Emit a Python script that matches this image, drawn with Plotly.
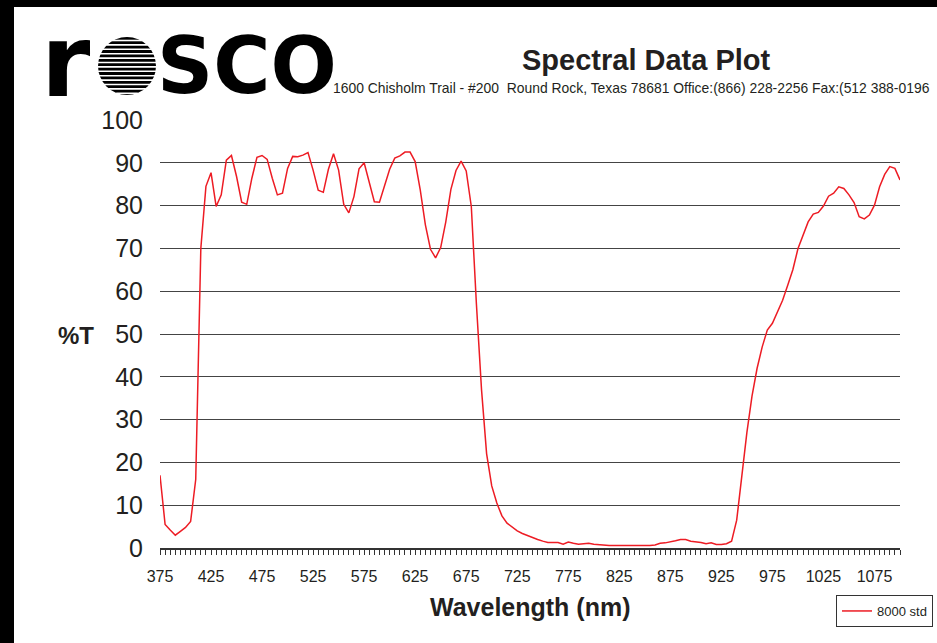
import math
import plotly.graph_objects as go

# ---------------- data ----------------
wavelength_nm = [
    375, 380, 385, 390, 395, 400, 405, 410, 415, 420, 425, 430, 435, 440, 445, 450,
    455, 460, 465, 470, 475, 480, 485, 490, 495, 500, 505, 510, 515, 520, 525, 530,
    535, 540, 545, 550, 555, 560, 565, 570, 575, 580, 585, 590, 595, 600, 605, 610,
    615, 620, 625, 630, 635, 640, 645, 650, 655, 660, 665, 670, 675, 680, 685, 690,
    695, 700, 705, 710, 715, 720, 725, 730, 735, 740, 745, 750, 755, 760, 765, 770,
    775, 780, 785, 790, 795, 800, 805, 810, 815, 820, 825, 830, 835, 840, 845, 850,
    855, 860, 865, 870, 875, 880, 885, 890, 895, 900, 905, 910, 915, 920, 925, 930,
    935, 940, 945, 950, 955, 960, 965, 970, 975, 980, 985, 990, 995, 1000, 1005, 1010,
    1015, 1020, 1025, 1030, 1035, 1040, 1045, 1050, 1055, 1060, 1065, 1070, 1075, 1080,
    1085, 1090, 1095, 1100,
]

transmission_8000 = [
    17.0, 5.5, 4.2, 3.0, 3.9, 4.8, 6.2, 16.0, 70.0, 84.5, 87.7, 79.8, 82.5, 90.6, 91.7, 86.8,
    80.8, 80.3, 86.4, 91.3, 91.7, 90.8, 86.4, 82.5, 82.9, 88.7, 91.5, 91.4, 91.8, 92.4, 88.3, 83.6,
    83.1, 88.5, 92.1, 88.3, 80.3, 78.3, 82.1, 88.6, 90.0, 85.4, 80.9, 80.8, 84.6, 88.5, 91.1, 91.6,
    92.5, 92.5, 90.3, 83.6, 75.5, 69.8, 67.8, 70.2, 76.2, 83.8, 88.2, 90.4, 88.1, 79.8, 57.0, 37.0,
    22.0, 14.5, 10.5, 7.5, 5.8, 4.8, 4.0, 3.4, 2.9, 2.4, 2.0, 1.6, 1.3, 1.3, 1.3, 0.9,
    1.4, 1.1, 0.9, 1.0, 1.1, 0.9, 0.8, 0.6, 0.6, 0.6, 0.6, 0.6, 0.5, 0.5, 0.5, 0.5,
    0.6, 0.7, 1.1, 1.2, 1.4, 1.7, 2.0, 2.0, 1.6, 1.5, 1.3, 1.0, 1.2, 0.8, 0.8, 1.0,
    1.6, 6.5, 16.5, 27.0, 35.5, 42.0, 47.0, 50.9, 52.5, 55.2, 57.9, 61.4, 65.0, 69.9, 73.0, 76.2,
    78.0, 78.4, 79.9, 82.2, 82.9, 84.4, 84.0, 82.5, 80.7, 77.4, 76.9, 77.8, 80.1, 84.4,
    87.3, 89.1, 88.7, 86.0,
]

x_tick_values = [375, 425, 475, 525, 575, 625, 675, 725, 775, 825, 875, 925, 975, 1025, 1075]
y_tick_values = [0, 10, 20, 30, 40, 50, 60, 70, 80, 90, 100]
series_name = "8000 std"

# ---------------- layout helpers ----------------
W, H = 937, 643          # visible page size
W_LAYOUT = W + 8         # the page renders the figure 8px narrower than asked
L, R, T, B = 160, 37, 120, 95
PW, PH = W - L - R, H - T - B


def px(x):
    return (x - L) / PW


def py(y):
    return (H - B - y) / PH


FONT = "Liberation Sans, Arial, Helvetica, sans-serif"
RED = "#ed1c24"
TXT = "#231f20"

fig = go.Figure()
fig.add_trace(go.Scatter(
    x=wavelength_nm, y=transmission_8000, mode="lines", name=series_name,
    line=dict(color=RED, width=1.5), showlegend=True,
))

shapes = []
# black frame bands (top and left)
shapes.append(dict(type="rect", xref="paper", yref="paper", x0=px(-5), x1=px(W + 10),
                   y0=py(7), y1=py(-5), fillcolor="black", line=dict(width=0), layer="above"))
shapes.append(dict(type="rect", xref="paper", yref="paper", x0=px(-5), x1=px(14),
                   y0=py(H + 5), y1=py(-5), fillcolor="black", line=dict(width=0), layer="above"))

# logo striped circle
cx, cy, rr = 127, 66, 29
shapes.append(dict(type="circle", xref="paper", yref="paper", x0=px(cx - rr), x1=px(cx + rr),
                   y0=py(cy + rr), y1=py(cy - rr), fillcolor="black", line=dict(width=0)))
yy = cy - rr + 3.5
while yy < cy + rr - 1:
    dy = yy - cy
    half = math.sqrt(max(rr * rr - dy * dy, 0))
    shapes.append(dict(type="line", xref="paper", yref="paper",
                       x0=px(cx - half - 1), x1=px(cx + half + 1), y0=py(yy), y1=py(yy),
                       line=dict(color="white", width=1.6)))
    yy += 4.4

annotations = [
    dict(text="<b>Spectral Data Plot</b>", x=px(646), y=py(60), xref="paper", yref="paper",
         showarrow=False, xanchor="center", yanchor="middle",
         font=dict(family=FONT, size=29, color=TXT)),
    dict(text="1600 Chisholm Trail - #200\u00a0\u00a0Round Rock, Texas 78681 Office:(866) 228-2256 Fax:(512 388-0196",
         x=px(932), y=py(88), xref="paper", yref="paper", showarrow=False,
         xanchor="right", yanchor="middle", font=dict(family=FONT, size=13.9, color=TXT)),
    dict(text="<b>%T</b>", x=px(76), y=py(335), xref="paper", yref="paper", showarrow=False,
         xanchor="center", yanchor="middle", font=dict(family=FONT, size=24, color=TXT)),
    dict(text="<b>Wavelength (nm)</b>", x=px(530), y=py(607), xref="paper", yref="paper",
         showarrow=False, xanchor="center", yanchor="middle",
         font=dict(family=FONT, size=25, color=TXT)),
    # logo letters
    dict(text="<b>r</b>", x=px(39), y=py(62), xref="paper", yref="paper", showarrow=False,
         xanchor="left", yanchor="middle", font=dict(family="DejaVu Sans", size=100, color="black")),
    dict(text="<b>SCO</b>", x=px(155), y=py(66), xref="paper", yref="paper", showarrow=False,
         xanchor="left", yanchor="middle", font=dict(family="DejaVu Sans", size=78, color="black")),
]

fig.update_layout(
    width=W_LAYOUT, height=H, autosize=False,
    margin=dict(l=L, r=R + (W_LAYOUT - W), t=T, b=B, pad=0),
    paper_bgcolor="white", plot_bgcolor="white",
    font=dict(family=FONT, color=TXT),
    shapes=shapes, annotations=annotations,
    showlegend=True,
    legend=dict(x=px(933), y=py(595), xanchor="right", yanchor="top",
                bordercolor="#333", borderwidth=1, bgcolor="white",
                font=dict(family=FONT, size=13, color=TXT), itemwidth=30,
                tracegroupgap=0),
    xaxis=dict(range=[375, 1100], tickvals=x_tick_values, showgrid=False, zeroline=False,
               showline=True, linecolor="#333", linewidth=1.5,
               ticks="outside", ticklen=5, tickwidth=1, tickcolor="#333",
               minor=dict(dtick=5, tick0=375, ticks="outside", ticklen=5, tickwidth=1,
                          tickcolor="#333", showgrid=False),
               tickfont=dict(family=FONT, size=16, color=TXT), ticklabelstandoff=8,
               fixedrange=True),
    yaxis=dict(range=[0, 100], tickvals=y_tick_values, showgrid=True, gridcolor="#444",
               gridwidth=1.4, zeroline=False, showline=False, ticks="",
               tickfont=dict(family=FONT, size=25, color=TXT), ticklabelstandoff=16,
               fixedrange=True),
)

post = (
    "document.documentElement.style.overflow='hidden';"
    "document.body.style.margin='0';document.body.style.padding='0';"
    "document.body.style.overflow='hidden';"
)

fig.write_html(
    "out.html",
    config=dict(responsive=False, displayModeBar=False),
    default_width=W_LAYOUT, default_height=H,
    post_script=post,
)
